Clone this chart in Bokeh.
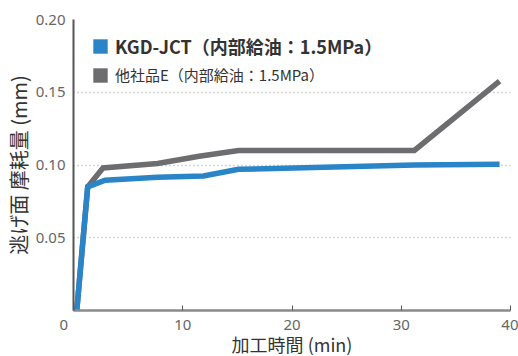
import math
from bokeh.plotting import figure
from bokeh.models import Range1d, Legend, LegendItem, FixedTicker
from bokeh.embed import file_html
from bokeh.resources import INLINE

# --- data ---
time_kgd = [0.3, 1.3, 2.9, 7.7, 11.9, 15.1, 31.2, 39.0]
wear_kgd = [0.0, 0.085, 0.0895, 0.0915, 0.0925, 0.097, 0.100, 0.1005]
time_other = [0.3, 1.3, 2.7, 7.7, 11.5, 15.1, 31.2, 39.0]
wear_other = [0.0, 0.085, 0.098, 0.101, 0.106, 0.110, 0.110, 0.1576]
x_ticks = [0, 10, 20, 30, 40]
y_ticks = [0.05, 0.10, 0.15, 0.20]
label_kgd = "KGD-JCT（内部給油：1.5MPa）"
label_other = "他社品E（内部給油：1.5MPa）"
x_title = "加工時間 (min)"
y_title = "逃げ面 摩耗量 (mm)"

BLUE = "#2a84c8"
GRAY = "#6d6d70"
TICK_FONT = "Noto Sans"
CJK = "Noto Sans CJK JP"
NAN = float("nan")

p = figure(frame_width=437, frame_height=291, output_backend="svg", toolbar_location=None,
           x_range=Range1d(0, 40), y_range=Range1d(0, 0.2),
           min_border_left=60, min_border_right=8, min_border_top=19, min_border_bottom=36)
p.outline_line_color = None
p.background_fill_color = "white"
p.border_fill_color = "white"

# grid
p.xgrid.grid_line_color = None
p.ygrid.ticker = FixedTicker(ticks=y_ticks)
p.ygrid.grid_line_color = "#a8a8a8"
p.ygrid.grid_line_dash = "1 3"
p.ygrid.grid_line_width = 1.5

# x axis
xa = p.xaxis[0]
xa.ticker = FixedTicker(ticks=x_ticks)
xa.major_label_overrides = {0: "0\u00a0\u00a0\u00a0\u00a0\u00a0"}
xa.axis_line_color = "#8a8a8a"
xa.axis_line_width = 2.5
xa.major_tick_in = 5
xa.major_tick_out = 0
xa.major_tick_line_color = "#555555"
xa.major_tick_line_width = 1
xa.minor_tick_line_color = None
xa.major_label_text_font = TICK_FONT
xa.major_label_text_font_size = "15px"
xa.major_label_text_color = "#666666"
xa.major_label_standoff = 3
xa.axis_label = x_title
xa.axis_label_text_font = CJK
xa.axis_label_text_font_size = "18px"
xa.axis_label_text_font_style = "normal"
xa.axis_label_text_color = "#333333"
xa.axis_label_standoff = -6

# y axis
ya = p.yaxis[0]
ya.ticker = FixedTicker(ticks=y_ticks)
ya.major_label_overrides = {0.05: "0.05", 0.1: "0.10", 0.15: "0.15", 0.2: "0.20"}
ya.axis_line_color = "#555555"
ya.axis_line_width = 2
ya.major_tick_line_color = None
ya.minor_tick_line_color = None
ya.major_tick_in = 0
ya.major_tick_out = 0
ya.major_label_text_font = TICK_FONT
ya.major_label_text_font_size = "15px"
ya.major_label_text_color = "#666666"
ya.major_label_standoff = 8
ya.axis_label = y_title
ya.axis_label_text_font = CJK
ya.axis_label_text_font_size = "20px"
ya.axis_label_text_font_style = "normal"
ya.axis_label_text_color = "#333333"
ya.axis_label_standoff = 0

# lines
p.line(time_other, wear_other, line_color=GRAY, line_width=5.5, line_join="miter")
p.line(time_kgd, wear_kgd, line_color=BLUE, line_width=5.5, line_join="miter")

# legend proxies (no visible data)
q1 = p.quad(left=[NAN], right=[NAN], top=[NAN], bottom=[NAN], fill_color=BLUE, line_color=None)
q2 = p.quad(left=[NAN], right=[NAN], top=[NAN], bottom=[NAN], fill_color=GRAY, line_color=None)

def make_legend(item, loc, size, style):
    lg = Legend(items=[item], location=loc, orientation="vertical",
                glyph_width=18, glyph_height=18, label_height=18,
                label_standoff=6, padding=0, margin=0, spacing=0,
                border_line_color=None, background_fill_alpha=0,
                label_text_font=CJK, label_text_font_size=size,
                label_text_font_style=style, label_text_color="#333333",
                label_text_baseline="middle")
    p.add_layout(lg, "center")

make_legend(LegendItem(label=label_kgd, renderers=[q1]), (18, 251), "18px", "bold")
make_legend(LegendItem(label=label_other, renderers=[q2]), (18, 225), "15px", "normal")

open("out.html", "w").write(file_html(p, INLINE))
